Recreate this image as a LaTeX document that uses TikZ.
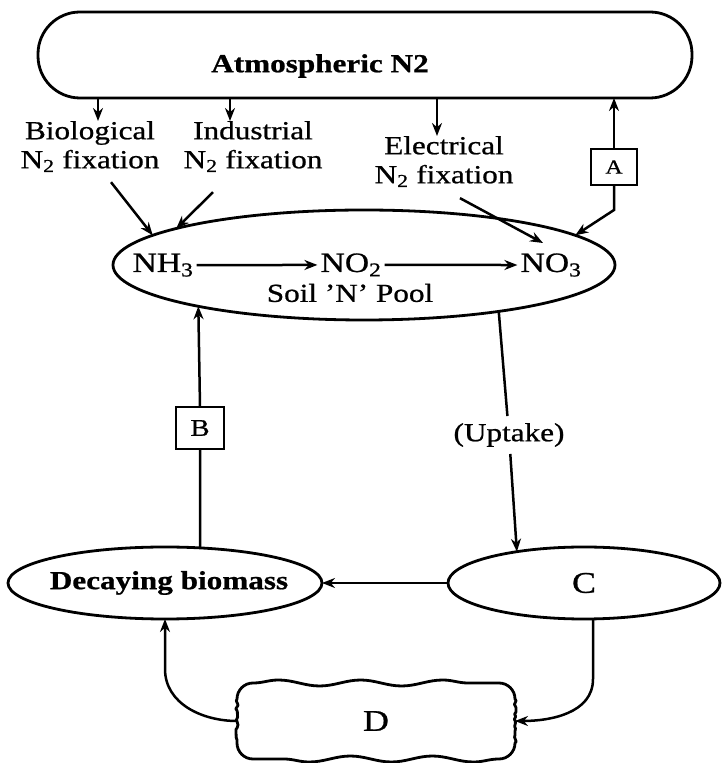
\documentclass[tikz,border=0pt]{standalone}
\usepackage{fontspec}
\setmainfont{Liberation Serif}[FakeStretch=1.2,FakeBold=0.8]
\usetikzlibrary{arrows.meta,calc,decorations.pathmorphing,shapes.geometric}
\begin{document}
\begin{tikzpicture}[x=1pt,y=1pt,
  every node/.style={font=\fontsize{26}{29}\selectfont},
  arr/.style={line width=2.5pt,-{Stealth[length=13pt,width=10pt]}},
  ln/.style={line width=2.5pt},
  bord/.style={draw,line width=2.8pt,inner sep=0pt,outer sep=0pt},
  ell/.style={bord,ellipse},
  lbl/.style={align=center,inner sep=0pt},
  chem/.style={anchor=base,inner sep=3pt,font=\fontsize{28}{30}\selectfont},
  dline/.style={line width=2.8pt,line join=round},
  wave/.style={decoration={snake,segment length=82pt,amplitude=3pt}},
  rough/.style={decoration={random steps,segment length=2.5pt,amplitude=1.2pt}}]
\useasboundingbox (0,0) rectangle (721,763);

% atmosphere
\node[bord,rounded corners=42pt,minimum width=654pt,minimum height=86pt] (atm) at (365,708) {};
\node[font=\fontsize{26}{29}\selectfont\bfseries] (atmtxt) at (320,697) {Atmospheric N2};

% fixation labels
\node[lbl,anchor=north] (bio) at (90,642) {Biological\\N\textsubscript{2} fixation};
\node[lbl,anchor=north] (ind) at (253,642) {Industrial\\N\textsubscript{2} fixation};
\node[lbl,anchor=north] (ele) at (444,627) {Electrical\\N\textsubscript{2} fixation};
\node[bord,minimum width=46pt,minimum height=36pt,font=\fontsize{20}{22}\selectfont] (A) at (614,596) {A};

\draw[arr] ($(atm.south -| bio.north)+(8,0)$) -- ($(bio.north)+(8,0)$);
\draw[arr] ($(atm.south -| ind.north)+(-23,0)$) -- ($(ind.north)+(-23,0)$);
\draw[arr] ($(atm.south -| ele.north)+(-7,0)$) -- ($(ele.north)+(-7,0)$);
\draw[arr] (A.north) -- (A.north |- atm.south);

% soil pool
\node[ell,minimum width=502pt,minimum height=110pt] (soil) at (364,498) {};
\node[chem] (nh3) at (163,491) {NH\textsubscript{3}};
\node[chem] (no2) at (351,491) {NO\textsubscript{2}};
\node[chem] (no3) at (551,491) {NO\textsubscript{3}};
\node (pool) at (350,470) {Soil 'N' Pool};
\draw[arr] (nh3) -- (no2);
\draw[arr] (no2) -- (no3);

\coordinate (etip) at (543,520);
\draw[arr] ($(bio.south)+(21,-10)$) -- (soil.172.3);
\draw[arr] ($(ind.south)+(-40,-20)$) -- (soil.169.6);
\draw[arr] ($(ele.south)+(16,-11)$) -- (etip);
\draw[arr] (A.south) -- ++(0,-25) -- (soil.8.5);

% lower part
\node[ell,minimum width=314pt,minimum height=72pt] (dec) at (165,180) {};
\node[font=\fontsize{26}{29}\selectfont\bfseries] (dectxt) at (169,180) {Decaying biomass};
\node[ell,minimum width=272pt,minimum height=72pt,font=\fontsize{30}{32}\selectfont] (C) at (584,180) {C};
\node[bord,minimum width=48pt,minimum height=42pt,font=\fontsize{24}{26}\selectfont] (B) at (200,335) {B};
\node[inner xsep=2pt,inner ysep=7pt] (up) at (509,328) {(Uptake)};

\draw[ln] (dec.45) -- (B.south);
\draw[arr] (B.north) -- (soil.194.4);
\draw[ln] (soil.-19.3) -- (up);
\draw[arr] (up) -- (C.155);
\draw[arr] (C.west) -- (dec.east);

% D with wavy outline
\node[inner sep=0pt,outer sep=0pt,minimum width=278pt,minimum height=76pt,
  font=\fontsize{30}{32}\selectfont] (D) at (376,42) {D};
\draw[dline] ($(D.north west)+(16,0)$)
  decorate[wave] {-- ($(D.north east)+(-16,0)$)}
  arc[start angle=90,end angle=0,radius=16pt]
  decorate[rough] {-- ($(D.south east)+(0,16)$)}
  arc[start angle=0,end angle=-90,radius=16pt]
  decorate[wave] {-- ($(D.south west)+(16,0)$)}
  arc[start angle=270,end angle=180,radius=16pt]
  decorate[rough] {-- ($(D.north west)+(0,-16)$)}
  arc[start angle=180,end angle=90,radius=16pt];

\draw[arr] (D.west) to[out=180,in=-90] ($(dec.south)+(0,-50)$) -- (dec.south);
\draw[arr] ($(C.south)+(9,0)$) -- ++(0,-60) to[out=-90,in=0] (D.east);
\end{tikzpicture}
\end{document}
